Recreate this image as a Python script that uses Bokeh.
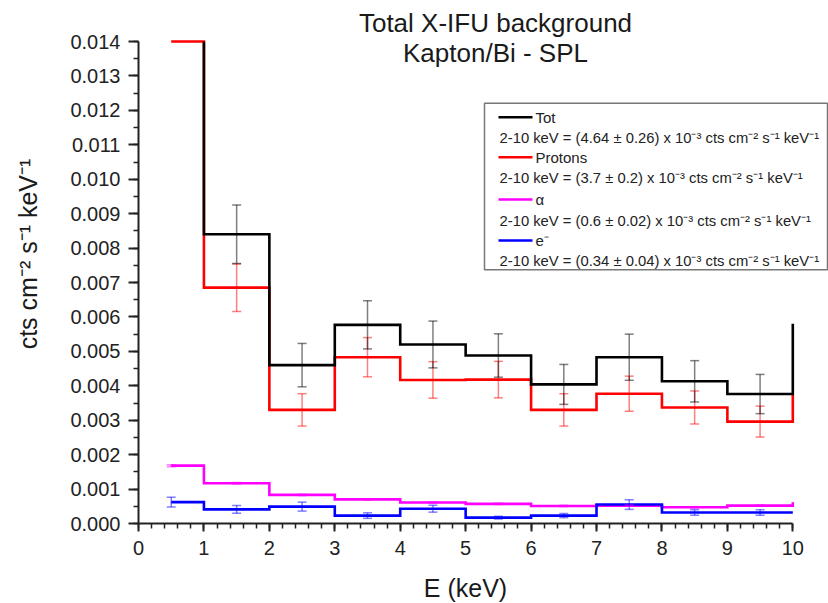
import math
from bokeh.plotting import figure
from bokeh.models import (FixedTicker, PrintfTickFormatter, Whisker, TeeHead,
                          ColumnDataSource, Label, Range1d)
from bokeh.embed import file_html
from bokeh.resources import INLINE

# ---------------- data ----------------
edges = [0.5, 1, 2, 3, 4, 5, 6, 7, 8, 9, 10]
tot = [0.0158, 0.0084, 0.0046, 0.00577, 0.0052, 0.00488, 0.00404, 0.00483, 0.00413, 0.00376, 0.0058]
protons = [0.0140, 0.00685, 0.0033, 0.00483, 0.00417, 0.00418, 0.0033, 0.00377, 0.00337, 0.00296, 0.00374]
alpha = [0.00168, 0.00117, 0.00083, 0.00070, 0.00061, 0.00057, 0.00051, 0.00052, 0.00047, 0.00052, 0.00062]
electrons = [0.00062, 0.00041, 0.00049, 0.00023, 0.00043, 0.00017, 0.00023, 0.00055, 0.00032, 0.00032, 0.00032]

err_x = [0.5, 1.5, 2.5, 3.5, 4.5, 5.5, 6.5, 7.5, 8.5, 9.5]
tot_err = [None, 0.00085, 0.00063, 0.0007, 0.00068, 0.00063, 0.00058, 0.00067, 0.0006, 0.00057]
protons_err = [None, 0.00069, 0.00047, 0.00057, 0.00053, 0.00053, 0.00047, 0.00051, 0.00048, 0.00045]
alpha_err = [0.00003, 0.00002, 0.00002, 0.00002, 0.00002, 0.00002, 0.00002, 0.00002, 0.00002, 0.00002]
electrons_err = [0.00014, 0.00011, 0.00013, 0.00008, 0.0001, 0.00004, 0.00006, 0.00014, 0.00008, 0.00008]

x_ticks = [0, 1, 2, 3, 4, 5, 6, 7, 8, 9, 10]
y_ticks = [0.000, 0.001, 0.002, 0.003, 0.004, 0.005, 0.006, 0.007,
           0.008, 0.009, 0.010, 0.011, 0.012, 0.013, 0.014]
x_axis_max = 10
y_axis_max = 0.014

series_names = ["Tot", "Protons", "\u03b1", "e\u207b"]
series_stats = [
    "2-10 keV = (4.64 \u00b1 0.26) x 10\u207b\u00b3 cts cm\u207b\u00b2 s\u207b\u00b9 keV\u207b\u00b9",
    "2-10 keV = (3.7 \u00b1 0.2) x 10\u207b\u00b3 cts cm\u207b\u00b2 s\u207b\u00b9 keV\u207b\u00b9",
    "2-10 keV = (0.6 \u00b1 0.02) x 10\u207b\u00b3 cts cm\u207b\u00b2 s\u207b\u00b9 keV\u207b\u00b9",
    "2-10 keV = (0.34 \u00b1 0.04) x 10\u207b\u00b3 cts cm\u207b\u00b2 s\u207b\u00b9 keV\u207b\u00b9",
]
series_colors = ["#000000", "#ff0000", "#ff00ff", "#0000ff"]

title_lines = ["Total X-IFU background", "Kapton/Bi - SPL"]
x_label = "E (keV)"
y_label = "cts cm\u207b\u00b2 s\u207b\u00b9 keV\u207b\u00b9"

FONT = "Liberation Sans"

# ---------------- geometry (canvas pixels) ----------------
W, H = 828, 603
PX_PER_KEV = 65.43
PX_PER_Y = 482 / 0.014
ORIGIN_X, ORIGIN_Y = 138.0, 523.0   # canvas position of data origin


def dx(px):
    return (px - ORIGIN_X) / PX_PER_KEV


def dy(py):
    return (ORIGIN_Y - py) / PX_PER_Y


p = figure(width=W, height=H,
           x_range=Range1d(dx(0), dx(W)), y_range=Range1d(dy(H), dy(0)),
           output_backend="svg", toolbar_location=None,
           min_border_left=0, min_border_right=0,
           min_border_top=0, min_border_bottom=0,
           background_fill_color="white", border_fill_color="white")
p.outline_line_color = None
p.xgrid.visible = False
p.ygrid.visible = False

for ax in (p.xaxis[0], p.yaxis[0]):
    ax.fixed_location = 0
    ax.axis_line_width = 2
    ax.axis_line_color = "#222222"
    ax.major_tick_line_width = 2
    ax.major_tick_line_color = "#222222"
    ax.minor_tick_line_width = 1.5
    ax.minor_tick_line_color = "#222222"
    ax.major_tick_in = 0
    ax.minor_tick_in = 0
    ax.major_label_text_font = FONT
    ax.major_label_text_font_size = "20px"
    ax.major_label_text_color = "#222222"

p.xaxis.bounds = (0, x_axis_max)
p.xaxis.ticker = FixedTicker(ticks=x_ticks, minor_ticks=[i * 0.2 for i in range(51)])
p.xaxis.formatter = PrintfTickFormatter(format="%d")
p.xaxis.major_tick_out = 8
p.xaxis.minor_tick_out = 5
p.xaxis.major_label_standoff = 9

p.yaxis.bounds = (0, y_axis_max)
p.yaxis.ticker = FixedTicker(ticks=y_ticks, minor_ticks=[i * 0.0005 for i in range(29)])
p.yaxis.formatter = PrintfTickFormatter(format="%.3f")
p.yaxis.major_tick_out = 10
p.yaxis.minor_tick_out = 5
p.yaxis.major_label_standoff = 8


def clipped_step(xe, ys, top):
    """Step ('after') polyline, clipped to the axis top as the original plot does."""
    pts = []
    for i in range(len(ys)):
        pts.append((xe[i], ys[i]))
        if i + 1 < len(ys):
            pts.append((xe[i + 1], ys[i]))
    ox, oy = [], []
    for (x0, y0), (x1, y1) in zip(pts[:-1], pts[1:]):
        if y0 > top and y1 > top:
            continue
        a = (x0, min(y0, top))
        b = (x1, min(y1, top))
        if not ox or (ox[-1], oy[-1]) != a:
            if ox:
                ox.append(float("nan"))
                oy.append(float("nan"))
            ox.append(a[0])
            oy.append(a[1])
        ox.append(b[0])
        oy.append(b[1])
    return ox, oy


# ---------------- steps ----------------
series = [tot, protons, alpha, electrons]
errs = [tot_err, protons_err, alpha_err, electrons_err]
draw_order = [2, 3, 1, 0]
for i in draw_order:
    sx, sy = clipped_step(edges, series[i], y_axis_max)
    p.line(x=sx, y=sy, line_color=series_colors[i], line_width=2.6, line_join="miter")

# ---------------- error bars ----------------
for i in draw_order:
    xs, up, lo = [], [], []
    for k, xv in enumerate(err_x):
        e = errs[i][k]
        if e is None:
            continue
        xs.append(xv)
        up.append(series[i][k] + e)
        lo.append(series[i][k] - e)
    src = ColumnDataSource(dict(x=xs, upper=up, lower=lo))
    col = series_colors[i]
    w = Whisker(source=src, base="x", upper="upper", lower="lower", dimension="height",
                line_color=col, line_alpha=0.5, line_width=1.5, level="overlay",
                upper_head=TeeHead(size=9, line_color=col, line_alpha=0.5, line_width=1.5),
                lower_head=TeeHead(size=9, line_color=col, line_alpha=0.5, line_width=1.5))
    p.add_layout(w)

# ---------------- legend box ----------------
p.quad(left=dx(484), right=dx(827), top=dy(102.7), bottom=dy(269.3),
       fill_color="white", line_color="#777777", line_width=1.5)
name_rows = [116.7, 156.7, 199.0, 240.0]
stat_rows = [137.3, 177.7, 220.0, 260.0]
for i in range(4):
    p.segment(x0=[dx(498)], x1=[dx(532)], y0=[dy(name_rows[i])], y1=[dy(name_rows[i])],
              line_color=series_colors[i], line_width=2.6)
    p.add_layout(Label(x=dx(535), y=dy(name_rows[i]), text=series_names[i],
                       text_font=FONT, text_font_size="15px", text_color="#222222",
                       text_baseline="middle", text_align="left"))
    p.add_layout(Label(x=dx(499), y=dy(stat_rows[i]), text=series_stats[i],
                       text_font=FONT, text_font_size="14.8px", text_color="#222222",
                       text_baseline="middle", text_align="left"))

# ---------------- titles and axis labels ----------------
p.add_layout(Label(x=dx(495), y=dy(22.5), text=title_lines[0], text_font=FONT,
                   text_font_size="26px", text_color="#1a1a1a",
                   text_align="center", text_baseline="middle"))
p.add_layout(Label(x=dx(495), y=dy(52.5), text=title_lines[1], text_font=FONT,
                   text_font_size="26px", text_color="#1a1a1a",
                   text_align="center", text_baseline="middle"))
p.add_layout(Label(x=dx(465), y=dy(587), text=x_label, text_font=FONT,
                   text_font_size="25px", text_color="#1a1a1a",
                   text_align="center", text_baseline="middle"))
p.add_layout(Label(x=dx(27), y=dy(253.5), text=y_label, text_font=FONT,
                   text_font_size="25px", text_color="#1a1a1a", angle=math.pi / 2,
                   text_align="center", text_baseline="middle"))

open("out.html", "w").write(file_html(p, INLINE))
